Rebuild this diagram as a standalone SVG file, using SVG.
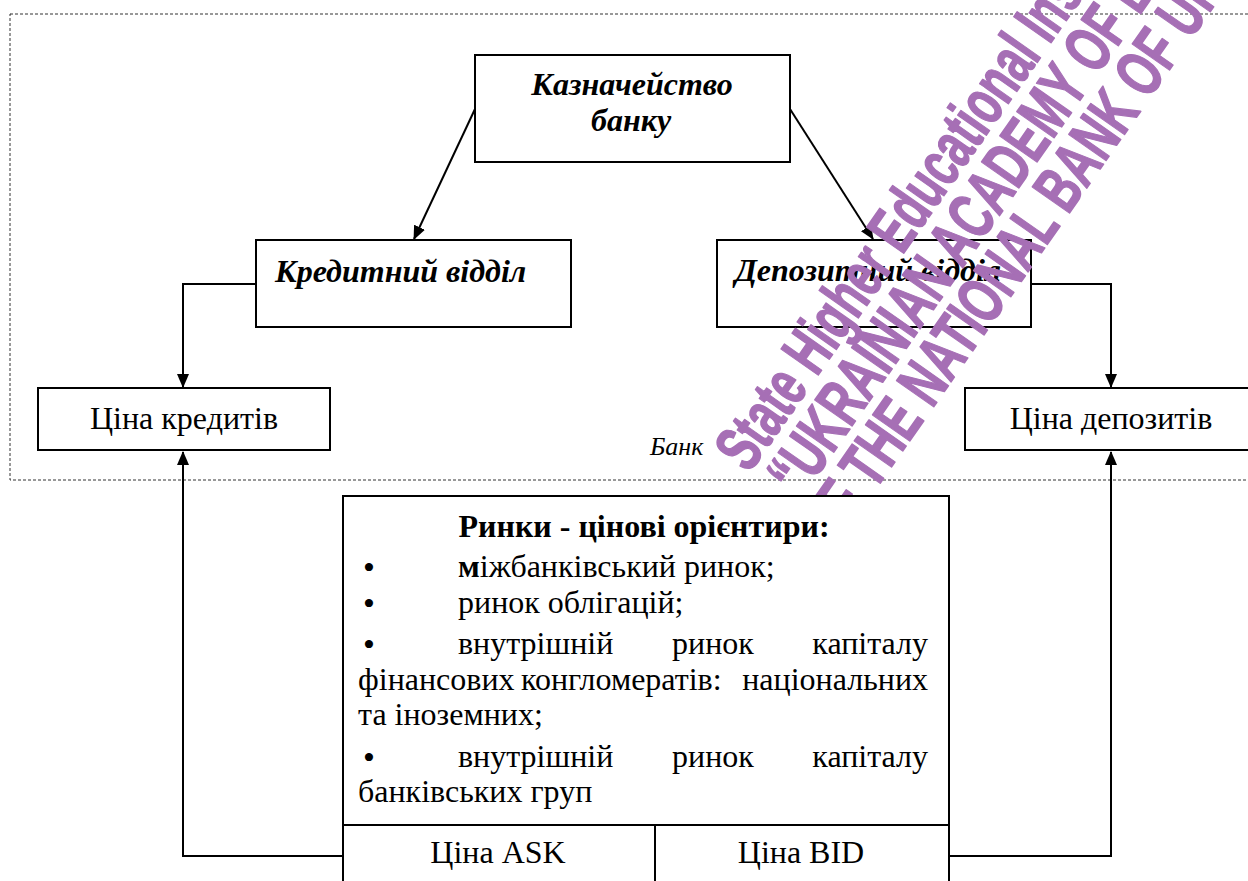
<svg xmlns="http://www.w3.org/2000/svg" width="1248" height="881" viewBox="0 0 1248 881">
  <style>
    .box { fill: #ffffff; stroke: #000000; stroke-width: 2; }
    .frame { fill: none; stroke: #333333; stroke-width: 1; stroke-dasharray: 3 2; }
    .conn { fill: none; stroke: #000000; stroke-width: 2; }
    .title { font-size: 32px; font-weight: bold; font-style: italic; fill: #000; }
    .txt { font-size: 32px; fill: #000; }
    .bul { font-size: 34px; }
    .bold { font-weight: bold; }
    .small { font-size: 26px; font-style: italic; fill: #000; }
    .wm { font-size: 66px; font-weight: bold; fill: #A66FB5; stroke: #A66FB5; stroke-width: 1.5; stroke-linejoin: round; }
  </style>
  <defs>
    <marker id="arrow" markerWidth="14" markerHeight="12" refX="13" refY="6" orient="auto" markerUnits="userSpaceOnUse">
      <path d="M0,0 L14,6 L0,12 Z" fill="#000"/>
    </marker>
  </defs>

  <rect width="1248" height="881" fill="#ffffff"/>

  <!-- bank boundary -->
  <rect id="bank-frame" class="frame" x="10" y="14" width="1250" height="466"/>

  <!-- connectors -->
  <g id="connectors">
    <line class="conn" x1="475" y1="109" x2="414" y2="239" marker-end="url(#arrow)"/>
    <line class="conn" x1="790" y1="109" x2="873" y2="239" marker-end="url(#arrow)"/>
    <polyline class="conn" points="256,284 183,284 183,387" marker-end="url(#arrow)"/>
    <polyline class="conn" points="1031,284 1111,284 1111,387" marker-end="url(#arrow)"/>
    <polyline class="conn" points="343,856 183,856 183,452" marker-end="url(#arrow)"/>
    <polyline class="conn" points="949,856 1111,856 1111,452" marker-end="url(#arrow)"/>
  </g>

  <g font-family="'Liberation Serif', 'DejaVu Serif', serif">
    <g id="treasury">
      <rect class="box" x="475" y="55" width="315" height="107"/>
      <text class="title" x="632" y="95" text-anchor="middle">Казначейство</text>
      <text class="title" x="631" y="131" text-anchor="middle">банку</text>
    </g>

    <g id="credit-dept">
      <rect class="box" x="256" y="240" width="315" height="87"/>
      <text class="title" x="275" y="282">Кредитний відділ</text>
    </g>

    <g id="deposit-dept">
      <rect class="box" x="717" y="240" width="314" height="87"/>
      <text class="title" x="735" y="281">Депозитний відділ</text>
    </g>

    <g id="credit-price">
      <rect class="box" x="38" y="388" width="292" height="62"/>
      <text class="txt" x="184" y="429" text-anchor="middle">Ціна кредитів</text>
    </g>

    <g id="deposit-price">
      <rect class="box" x="965" y="388" width="300" height="62"/>
      <text class="txt" x="1111" y="429" text-anchor="middle">Ціна депозитів</text>
    </g>

    <text id="bank-label" class="small" x="650" y="455">Банк</text>
  </g>

  <!-- diagonal watermark -->
  <g id="watermark" font-family="'Liberation Sans', Arial, sans-serif">
    <text class="wm" transform="translate(749,474) rotate(-55) scale(0.655,1)">State Higher Educational Institution</text>
    <text class="wm" transform="translate(801,499) rotate(-55) scale(0.67,1)">“UKRAINIAN ACADEMY OF BANKING</text>
    <text class="wm" transform="translate(832,552) rotate(-55) scale(0.67,1)">OF THE NATIONAL BANK OF UKRAINE</text>
  </g>

  <g id="markets" font-family="'Liberation Serif', 'DejaVu Serif', serif">
    <rect class="box" x="343" y="496" width="606" height="400"/>
    <line class="conn" x1="343" y1="825" x2="949" y2="825"/>
    <line class="conn" x1="655" y1="825" x2="655" y2="890"/>
    <text class="txt bold" x="644" y="537" text-anchor="middle">Ринки - цінові орієнтири:</text>
    <text class="txt" y="577"><tspan class="bul" x="363" dy="2">•</tspan><tspan x="458" dy="-2"><tspan class="bold">м</tspan>іжбанківський ринок;</tspan></text>
    <text class="txt" y="613"><tspan class="bul" x="363" dy="2">•</tspan><tspan x="458" dy="-2">ринок облігацій;</tspan></text>
    <text class="txt" y="654"><tspan class="bul" x="363" dy="2">•</tspan><tspan x="458" dy="-2">внутрішній</tspan><tspan x="672">ринок</tspan><tspan x="928" text-anchor="end">капіталу</tspan></text>
    <text class="txt" y="690" font-size="30"><tspan x="358">фінансових</tspan><tspan x="521">конгломератів:</tspan><tspan x="928" text-anchor="end">національних</tspan></text>
    <text class="txt" x="358" y="725">та іноземних;</text>
    <text class="txt" y="767"><tspan class="bul" x="363" dy="2">•</tspan><tspan x="458" dy="-2">внутрішній</tspan><tspan x="672">ринок</tspan><tspan x="928" text-anchor="end">капіталу</tspan></text>
    <text class="txt" x="358" y="802">банківських груп</text>
    <text class="txt" x="498" y="863" text-anchor="middle">Ціна ASK</text>
    <text class="txt" x="801" y="863" text-anchor="middle">Ціна BID</text>
  </g>
</svg>
